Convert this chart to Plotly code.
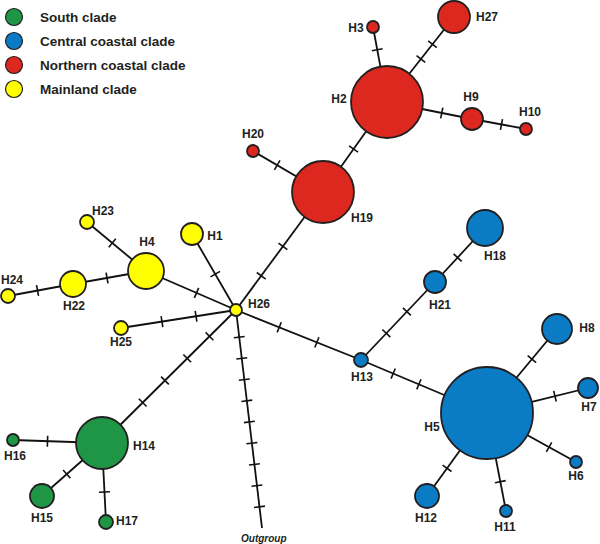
import math
import plotly.graph_objects as go

# Haplotype nodes (network layout, pixel-like coords) and their radius (frequency)
haplotypes = ["H1", "H2", "H3", "H4", "H5", "H6", "H7", "H8", "H9", "H10",
              "H11", "H12", "H13", "H14", "H15", "H16", "H17", "H18", "H19", "H20",
              "H21", "H22", "H23", "H24", "H25", "H26", "H27"]
node_x = [192, 387, 373, 146, 487, 576, 588, 557, 472, 526,
          506, 427, 361, 102, 42, 13, 106, 485, 323, 253,
          435, 73, 87, 8, 121, 236, 454]
node_y = [234, 102, 27, 271, 413, 462, 388, 329, 119, 129,
          511, 496, 360, 443, 496, 440, 522, 228, 192, 151,
          282, 284, 222, 296, 328, 310, 17]
node_r = [11, 36, 6, 18, 46, 6, 10, 15, 11, 6,
          6, 12, 7, 26, 12, 6, 7, 18, 31, 6,
          11, 13, 7, 7, 7, 6, 16]
node_clade = ["Mainland", "Northern", "Northern", "Mainland", "Central", "Central", "Central",
              "Central", "Northern", "Northern", "Central", "Central", "Central", "South",
              "South", "South", "South", "Central", "Northern", "Northern", "Central",
              "Mainland", "Mainland", "Mainland", "Mainland", "Mainland", "Northern"]

# outgroup end point
outgroup_x, outgroup_y = 262, 528

# edges: (from, to, number of mutational steps)
edges = [("H26", "H1", 1), ("H26", "H4", 1), ("H4", "H23", 1), ("H4", "H22", 1),
         ("H22", "H24", 1), ("H26", "H25", 2), ("H26", "H14", 4), ("H14", "H16", 1),
         ("H14", "H15", 1), ("H14", "H17", 1), ("H26", "Outgroup", 9), ("H26", "H19", 2),
         ("H19", "H20", 1), ("H19", "H2", 1), ("H2", "H3", 1), ("H2", "H27", 2),
         ("H2", "H9", 1), ("H9", "H10", 1), ("H26", "H13", 2), ("H13", "H21", 2),
         ("H21", "H18", 1), ("H13", "H5", 2), ("H5", "H8", 1), ("H5", "H7", 1),
         ("H5", "H6", 1), ("H5", "H11", 1), ("H5", "H12", 1)]

clades = ["South", "Central", "Northern", "Mainland"]
clade_names = ["South clade", "Central coastal clade", "Northern coastal clade", "Mainland clade"]

colors = {"South": "#1e9645", "Central": "#0a7cc6", "Northern": "#dc281e", "Mainland": "#ffff00"}
outline = "#231f20"

# label offsets from node centre
label_off = {
    "H1": (23, 3), "H4": (1, -28), "H23": (16, -10), "H22": (1, 23), "H24": (4, -15),
    "H25": (0, 15), "H26": (23, -5), "H14": (42, 4), "H16": (2, 17), "H15": (0, 23),
    "H17": (21, 0), "H19": (39, 27), "H2": (-48, -2), "H3": (-17, 2), "H27": (33, 1),
    "H9": (-1, -21), "H10": (4, -16), "H20": (0, -16), "H18": (10, 29), "H21": (5, 24),
    "H13": (1, 18), "H5": (-55, 15), "H8": (30, 0), "H7": (1, 20), "H6": (0, 15),
    "H11": (-1, 17), "H12": (-1, 23),
}

pos = {h: (x, y, r) for h, x, y, r in zip(haplotypes, node_x, node_y, node_r)}
pos["Outgroup"] = (outgroup_x, outgroup_y, 0)

fig = go.Figure()

# edges
ex, ey = [], []
tx, ty = [], []
TICK = 5.5
for a, b, n in edges:
    x0, y0, r0 = pos[a]
    x1, y1, r1 = pos[b]
    ex += [x0, x1, None]
    ey += [y0, y1, None]
    d = math.hypot(x1 - x0, y1 - y0)
    ux, uy = (x1 - x0) / d, (y1 - y0) / d
    px, py = -uy, ux
    vis = d - r0 - r1
    for i in range(n):
        t = r0 + vis * (i + 1) / (n + 1)
        cx, cy = x0 + ux * t, y0 + uy * t
        tx += [cx - px * TICK, cx + px * TICK, None]
        ty += [cy - py * TICK, cy + py * TICK, None]

fig.add_trace(go.Scatter(x=ex, y=ey, mode="lines", line=dict(color="#111", width=1.8),
                         hoverinfo="skip", showlegend=False))
fig.add_trace(go.Scatter(x=tx, y=ty, mode="lines", line=dict(color="#111", width=1.6),
                         hoverinfo="skip", showlegend=False))

# nodes
fig.add_trace(go.Scatter(
    x=node_x, y=node_y, mode="markers", cliponaxis=False,
    marker=dict(size=[2 * r for r in node_r], color=[colors[c] for c in node_clade],
                line=dict(color=outline, width=1.8), opacity=1),
    text=haplotypes, hoverinfo="text", showlegend=False))

# labels
fig.add_trace(go.Scatter(
    x=[pos[h][0] + label_off[h][0] for h in haplotypes],
    y=[pos[h][1] + label_off[h][1] for h in haplotypes],
    mode="text", text=["<b>%s</b>" % h for h in haplotypes], cliponaxis=False,
    textfont=dict(family="Liberation Sans, Arial", size=12, color="#231f20"),
    hoverinfo="skip", showlegend=False))

fig.add_annotation(x=outgroup_x + 2, y=outgroup_y + 10, text="<b><i>Outgroup</i></b>",
                   showarrow=False, font=dict(family="Liberation Sans, Arial", size=10, color="#231f20"))

# manual legend
leg_y = [17, 41, 65, 89]
fig.add_trace(go.Scatter(
    x=[14] * 4, y=leg_y, mode="markers",
    marker=dict(size=17, color=[colors[c] for c in clades], line=dict(color=outline, width=1.2)),
    hoverinfo="skip", showlegend=False))
for yy, name in zip(leg_y, clade_names):
    fig.add_annotation(x=38, y=yy, text="<b>%s</b>" % name, xanchor="left", showarrow=False,
                       font=dict(family="Liberation Sans, Arial", size=13.5, color="#231f20"))

fig.update_layout(
    width=600, height=544,
    margin=dict(l=0, r=0, t=0, b=0),
    plot_bgcolor="white", paper_bgcolor="white",
    xaxis=dict(range=[0, 600], visible=False, fixedrange=True),
    yaxis=dict(range=[544, 0], visible=False, fixedrange=True),
)

# page body has a default 8px margin; drop it so the figure fills the window
fig.write_html("out.html", config={"displayModeBar": False},
               post_script="document.body.style.margin='0px';document.body.style.overflow='hidden';")
